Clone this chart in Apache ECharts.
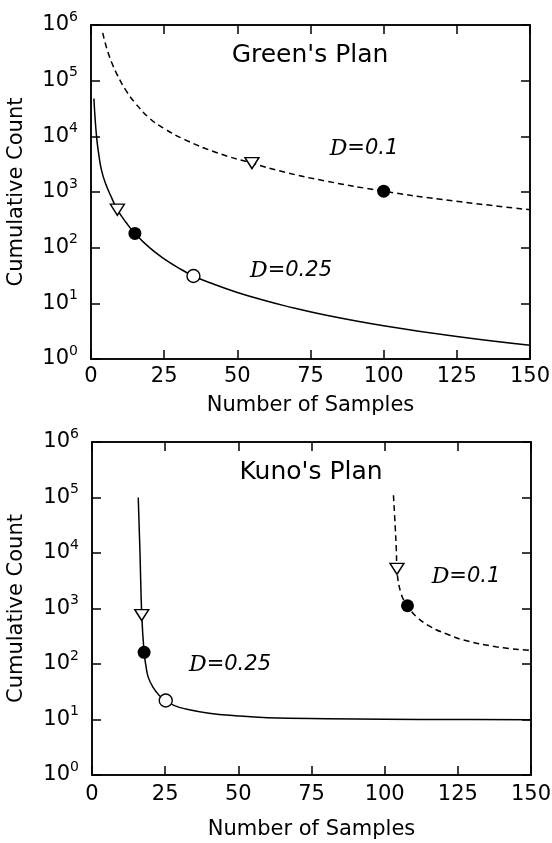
<!DOCTYPE html>
<html><head><meta charset="utf-8">
<script src="https://cdn.jsdelivr.net/npm/echarts@6/dist/echarts.min.js"></script>
<style>html,body{margin:0;padding:0;background:#fff}#c{width:552px;height:843px}</style>
</head><body><div id="c"></div>
<script>
// ---- data ----
const xTicks = [0, 25, 50, 75, 100, 125, 150];
const yTicks = [1, 10, 100, 1000, 10000, 100000, 1000000];

// Green's Plan
const greenD25 = [[1,47900],[1.4,21000],[2,8700],[2.7,4570],[3.6,2450],[5,1400],[7,800],[9,480],[12,283],[15,180],[20,100],[25,63],[30,43],[35,31],[42,22],[50,15.7],[60,11.0],[66,9.1],[80,6.2],[100,3.97],[125,2.53],[150,1.76]];
const greenD10 = [[4,724000],[5,445000],[6,302000],[7,216000],[9,126000],[12,66000],[15,40300],[20,21100],[25,13800],[32,8750],[43,5080],[55,3300],[66,2280],[80,1580],[100,1035],[120,733],[150,479]];
const greenTri = [[9,480],[55,3300]];
const greenDot = [[15,180],[100,1035]];
const greenRing = [[35,31]];

// Kuno's Plan
const kunoD25 = [[15.8,100000],[16.4,10000],[17,760],[17.8,162],[18.4,95],[19.2,58],[21,37],[23,27],[25.2,22],[28,18],[32,15.5],[40,13],[49,11.7],[60,10.8],[80,10.3],[100,10.1],[125,10],[150,9.9]];
const kunoD10 = [[103,110000],[103.6,30000],[104,11000],[104.2,5200],[105.6,1860],[107.8,1120],[111,700],[115.8,465],[121,350],[127,270],[138,205],[150,175]];
const kunoTri = [[17,760],[104.2,5200]];
const kunoDot = [[17.8,162],[107.8,1120]];
const kunoRing = [[25.2,22]];

const titles = ["Green's Plan", "Kuno's Plan"];
const xName = 'Number of Samples';
const yName = 'Cumulative Count';

// ---- chart ----
const FONT = 'DejaVu Sans';
const chart = echarts.init(document.getElementById('c'));
const black = '#000';
const axisLineStyle = {color: black, width: 1.5};

function yFmt(v) {
  const e = Math.round(Math.log10(v));
  return '{b|10}{s|' + e + '}';
}

const boxes = [
  {left: 91, top: 25, width: 439, height: 334},
  {left: 92, top: 442, width: 439, height: 333}
];
const xMargins = [7, 9];

// grids 0,1: main plots (bottom / left axes with labels)
// grids 2,3: same boxes, carrying the mirrored top / right tick axes
const grid = [];
const xAxis = [], yAxis = [];
boxes.forEach((b, i) => {
  grid.push(Object.assign({outerBoundsMode: 'none', show: true, borderColor: black, borderWidth: 1.5}, b));
  xAxis.push({
    gridIndex: i, type: 'value', min: xTicks[0], max: xTicks[xTicks.length - 1], interval: 25,
    position: 'bottom',
    axisLine: {show: true, onZero: false, lineStyle: axisLineStyle},
    axisTick: {show: true, inside: true, length: 9, lineStyle: axisLineStyle},
    axisLabel: {show: true, color: black, fontSize: 21, fontFamily: FONT, margin: xMargins[i]},
    splitLine: {show: false}
  });
  yAxis.push({
    gridIndex: i, type: 'log', min: yTicks[0], max: yTicks[yTicks.length - 1],
    position: 'left',
    axisLine: {show: true, onZero: false, lineStyle: axisLineStyle},
    axisTick: {show: true, inside: true, length: 9, lineStyle: axisLineStyle},
    axisLabel: {
      show: true, color: black, margin: 13, formatter: yFmt,
      rich: {
        b: {fontSize: 21, fontFamily: FONT, color: black, lineHeight: 30, verticalAlign: 'middle'},
        s: {fontSize: 14, fontFamily: FONT, color: black, lineHeight: 14, verticalAlign: 'top'}
      }
    },
    splitLine: {show: false}
  });
});
boxes.forEach((b, i) => {
  grid.push(Object.assign({outerBoundsMode: 'none'}, b));
  xAxis.push({
    gridIndex: 2 + i, type: 'value', min: xTicks[0], max: xTicks[xTicks.length - 1], interval: 25,
    position: 'top',
    axisLine: {show: true, onZero: false, lineStyle: axisLineStyle},
    axisTick: {show: true, inside: true, length: 9, lineStyle: axisLineStyle},
    axisLabel: {show: false}, splitLine: {show: false}
  });
  yAxis.push({
    gridIndex: 2 + i, type: 'log', min: yTicks[0], max: yTicks[yTicks.length - 1],
    position: 'right',
    axisLine: {show: true, onZero: false, lineStyle: axisLineStyle},
    axisTick: {show: true, inside: true, length: 9, lineStyle: axisLineStyle},
    axisLabel: {show: false}, splitLine: {show: false}
  });
});

function lineSeries(data, gi, dashed) {
  return {
    type: 'line', data: data, xAxisIndex: gi, yAxisIndex: gi,
    showSymbol: false, smooth: 0.45, z: 2,
    lineStyle: {color: black, width: 1.5, opacity: 1, type: dashed ? [6, 4] : 'solid'}
  };
}
function markSeries(data, gi, kind) {
  const s = {type: 'scatter', data: data, xAxisIndex: gi, yAxisIndex: gi, z: 5};
  if (kind === 'tri') {
    s.symbol = 'triangle'; s.symbolRotate = 180; s.symbolSize = [14, 11];
    s.itemStyle = {color: '#fff', borderColor: black, borderWidth: 1.4, opacity: 1};
  } else if (kind === 'dot') {
    s.symbol = 'circle'; s.symbolSize = 13;
    s.itemStyle = {color: black, borderColor: black, borderWidth: 0, opacity: 1};
  } else {
    s.symbol = 'circle'; s.symbolSize = 13;
    s.itemStyle = {color: '#fff', borderColor: black, borderWidth: 1.4, opacity: 1};
  }
  return s;
}
function frameSeries(gi) {
  return {type: 'line', data: [], xAxisIndex: gi, yAxisIndex: gi, showSymbol: false};
}

const series = [
  lineSeries(greenD25, 0, false), lineSeries(greenD10, 0, true),
  markSeries(greenTri, 0, 'tri'), markSeries(greenDot, 0, 'dot'), markSeries(greenRing, 0, 'ring'),
  lineSeries(kunoD25, 1, false), lineSeries(kunoD10, 1, true),
  markSeries(kunoTri, 1, 'tri'), markSeries(kunoDot, 1, 'dot'), markSeries(kunoRing, 1, 'ring'),
  frameSeries(2), frameSeries(3)
];

const dRich = {
  d: {fontFamily: 'DejaVu Serif', fontStyle: 'italic', fontSize: 22, fill: black},
  n: {fontFamily: 'DejaVu Sans', fontStyle: 'oblique', fontSize: 21, fill: black}
};
function dLabel(val, x, y) {
  return {type: 'text', x: x, y: y, silent: true,
    style: {text: '{d|D}{n|=' + val + '}', rich: dRich, align: 'center', verticalAlign: 'middle'}};
}
function plainText(t, x, y, size, rot) {
  return {type: 'text', x: x, y: y, rotation: rot || 0, silent: true,
    style: {text: t, fontFamily: FONT, fontSize: size, fill: black, align: 'center', verticalAlign: 'middle'}};
}

chart.setOption({
  animation: false,
  backgroundColor: '#fff',
  grid: grid, xAxis: xAxis, yAxis: yAxis, series: series,
  graphic: [
    plainText(titles[0], 310, 55, 25),
    plainText(titles[1], 311, 472, 25),
    plainText(xName, 310.5, 406, 21),
    plainText(xName, 311.5, 830, 21),
    plainText(yName, 17, 192, 21, Math.PI / 2),
    plainText(yName, 17, 608.5, 21, Math.PI / 2),
    dLabel('0.1', 364, 149),
    dLabel('0.25', 291, 271),
    dLabel('0.25', 230, 665),
    dLabel('0.1', 466, 577)
  ]
});
</script></body></html>
